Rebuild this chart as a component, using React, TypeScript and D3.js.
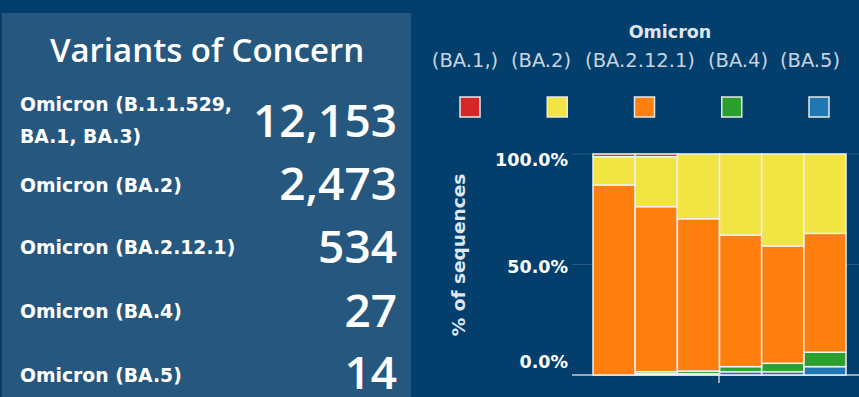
import { useEffect } from "react";
import * as d3 from "d3";

// summary counts on the left
const variantLabels = [
  ["Omicron (B.1.1.529,", "BA.1, BA.3)"],
  ["Omicron (BA.2)"],
  ["Omicron (BA.2.12.1)"],
  ["Omicron (BA.4)"],
  ["Omicron (BA.5)"],
];
const variantCounts = [12153, 2473, 534, 27, 14];

// stacked bars (% of sequences per period)
const periods = ["P1", "P2", "P3", "P4", "P5", "P6"];
const ba1 = [1.2, 1.2, 0, 0, 0, 0];
const ba2 = [12.8, 22.6, 29.3, 36.7, 41.6, 35.9];
const ba2121 = [86.0, 74.7, 68.9, 59.6, 53.1, 53.8];
const ba4 = [0, 0.9, 1.2, 2.3, 3.8, 6.5];
const ba5 = [0, 0.6, 0.6, 1.5, 1.5, 3.8];

const legendKeys = ["(BA.1,)", "(BA.2)", "(BA.2.12.1)", "(BA.4)", "(BA.5)"];
const legendColors = ["#d62728", "#f1e443", "#ff7f0e", "#2ca02c", "#1f77b4"];
const yTicks = [0, 0.5, 1];

const SANS = "'Open Sans', sans-serif";
const WIDE = "'DejaVu Sans', Verdana, sans-serif";

export default function App() {
  useEffect(() => {
    document.body.style.margin = "0";
  }, []);

  const W = 859, H = 397;

  const rows = periods.map((p, i) => ({
    period: p,
    "(BA.1,)": ba1[i],
    "(BA.2)": ba2[i],
    "(BA.2.12.1)": ba2121[i],
    "(BA.4)": ba4[i],
    "(BA.5)": ba5[i],
  }));
  const stackOrder = ["(BA.5)", "(BA.4)", "(BA.2.12.1)", "(BA.2)", "(BA.1,)"];
  const series = d3.stack<any>().keys(stackOrder).offset(d3.stackOffsetExpand)(rows);

  const color = d3.scaleOrdinal<string, string>().domain(legendKeys).range(legendColors);
  const x = d3.scaleBand().domain(periods).range([593, 846]).padding(0);
  const y = d3.scaleLinear().domain([0, 1]).range([375, 154]);
  const fmtPct = d3.format(".1%");
  const fmtNum = d3.format(",");

  const legendX = d3.scalePoint().domain(legendKeys).range([470, 819]);
  const legendTextX = [465, 541, 640, 738, 810];

  const labelBase = [111, 192, 254, 318, 382];
  const numBase = [137, 200, 263, 327, 389];

  return (
    <svg width={W} height={H} style={{ display: "block" }}>
      <rect x={0} y={0} width={W} height={H} fill="#023f6d" />
      {/* left panel */}
      <rect x={2} y={13} width={409} height={H - 13} fill="#26587f" />
      <text x={207} y={62} textAnchor="middle" fill="#fff" fontFamily={SANS} fontSize={33} fontWeight={600}>
        Variants of Concern
      </text>
      {variantLabels.map((lines, i) => (
        <g key={i}>
          {lines.map((l, j) => (
            <text key={j} x={20} y={labelBase[i] + j * 32} fill="#fff" fontFamily={WIDE} fontSize={18.8} fontWeight={700}>
              {l}
            </text>
          ))}
          <text x={397} y={numBase[i]} textAnchor="end" fill="#fff" fontFamily={SANS} fontSize={46} fontWeight={600}>
            {fmtNum(variantCounts[i])}
          </text>
        </g>
      ))}

      {/* legend */}
      <text x={670} y={38} textAnchor="middle" fill="#dfe6ee" fontFamily={WIDE} fontSize={17.5} fontWeight={700}>
        Omicron
      </text>
      {legendKeys.map((k, i) => (
        <g key={k}>
          <text x={legendTextX[i]} y={67} textAnchor="middle" fill="#c9d3de" fontFamily={WIDE} fontSize={19.5}>
            {k}
          </text>
          <rect x={(legendX(k) as number) - 10} y={97} width={20} height={20}
            fill={color(k)} stroke="#e8e8e8" strokeWidth={1.5} />
        </g>
      ))}

      {/* grid */}
      {yTicks.map(t => (
        <line key={t} x1={572} x2={W} y1={y(t)} y2={y(t)}
          stroke={t === 0 ? "#c8ced6" : "#2a5a84"} strokeWidth={t === 0 ? 1.5 : 1} />
      ))}
      <line x1={719} x2={719} y1={375} y2={383} stroke="#c8ced6" strokeWidth={1.5} />

      {/* y axis */}
      {yTicks.map(t => (
        <text key={t} x={568} y={y(t)} dy={t === 1 ? 12 : t === 0 ? -7 : 8}
          textAnchor="end" fill="#fff" fontFamily={WIDE} fontSize={17.5} fontWeight={700}>
          {fmtPct(t)}
        </text>
      ))}
      <text transform="translate(465,255) rotate(-90)" textAnchor="middle"
        fill="#dfe6ee" fontFamily={WIDE} fontSize={18.5} fontWeight={700}>
        % of sequences
      </text>

      {/* bars */}
      {series.map(s => (
        <g key={s.key} fill={color(s.key)}>
          {s.map((d, i) => (
            d[1] - d[0] > 0 ? (
              <rect key={i} x={x(periods[i])} y={y(d[1])} width={x.bandwidth()}
                height={y(d[0]) - y(d[1])} stroke="#eef0f2" strokeWidth={1.5} />
            ) : null
          ))}
        </g>
      ))}
    </svg>
  );
}
